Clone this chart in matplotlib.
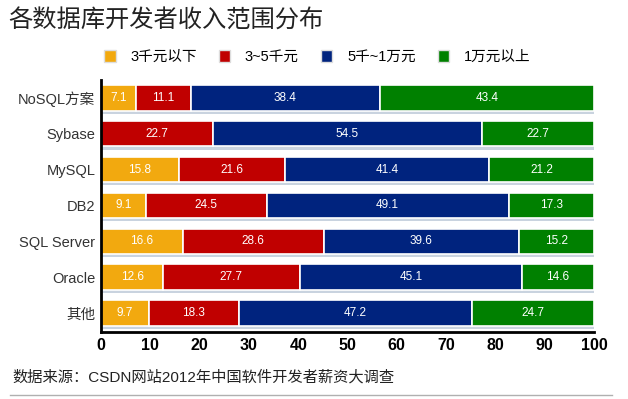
import matplotlib
matplotlib.use("Agg")
import matplotlib.pyplot as plt
import numpy as np
from matplotlib.patches import Patch
from matplotlib.lines import Line2D

# Latin text in an Arial-like face, CJK falls back to Noto
plt.rcParams["font.family"] = ["Liberation Sans", "Noto Sans CJK SC"]

databases = ["NoSQL方案", "Sybase", "MySQL", "DB2", "SQL Server", "Oracle", "其他"]
series_names = ["3千元以下", "3~5千元", "5千~1万元", "1万元以上"]
below_3k = [7.1, 0.0, 15.8, 9.1, 16.6, 12.6, 9.7]
from_3k_to_5k = [11.1, 22.7, 21.6, 24.5, 28.6, 27.7, 18.3]
from_5k_to_10k = [38.4, 54.5, 41.4, 49.1, 39.6, 45.1, 47.2]
above_10k = [43.4, 22.7, 21.2, 17.3, 15.2, 14.6, 24.7]
colors = ["#f2a90f", "#c00000", "#00237e", "#008000"]

values = [below_3k, from_3k_to_5k, from_5k_to_10k, above_10k]

fig = plt.figure(figsize=(6.28, 3.99), dpi=100)
ax = fig.add_axes([101 / 628, 1 - 332 / 399, 493 / 628, 252 / 399])

y = np.arange(len(databases))
totals = np.sum(values, axis=0)

# soft shadow under each stacked bar
ax.barh(y + 0.06, totals + 0.4, left=-0.1, height=0.76, color="#c9d3df",
        edgecolor="none", zorder=1)

left = np.zeros(len(databases))
for name, vals, col in zip(series_names, values, colors):
    vals = np.array(vals)
    ax.barh(y, vals, left=left, height=0.71, color=col, edgecolor="white",
            linewidth=1.2, zorder=2, label=name)
    for yi, (l, v) in enumerate(zip(left, vals)):
        if v > 0:
            ax.text(l + v / 2, yi, f"{v:.1f}", ha="center", va="center",
                    color="white", fontsize=8.5, zorder=3)
    left += vals

ax.set_xlim(0, 100)
ax.set_ylim(6.53, -0.5)
ax.set_yticks(y)
ax.set_yticklabels(databases, fontsize=10.5, color="#333333")
ax.set_xticks(np.arange(0, 101, 10))
ax.set_xticklabels([str(t) for t in range(0, 101, 10)], fontsize=11.5,
                   fontweight="bold")
ax.tick_params(axis="both", length=0, pad=4)
for side in ("top", "right"):
    ax.spines[side].set_visible(False)
for side in ("left", "bottom"):
    ax.spines[side].set_linewidth(2)
    ax.spines[side].set_color("black")

fig.text(8 / 628, 1 - 21 / 399, "各数据库开发者收入范围分布", fontsize=17.5,
         ha="left", va="center", color="#222222", family="Noto Sans CJK SC")

handles = [Patch(facecolor=c, edgecolor="#dddddd", label=n)
           for n, c in zip(series_names, colors)]
fig.legend(handles=handles, loc="center", bbox_to_anchor=(0.505, 1 - 57 / 399),
           ncol=4, frameon=False, fontsize=10.5, handlelength=0.8,
           handleheight=0.8, columnspacing=1.5, handletextpad=1.0)

fig.text(12 / 628, 1 - 377 / 399, "数据来源：CSDN网站2012年中国软件开发者薪资大调查",
         fontsize=11, ha="left", va="center", color="#222222")
fig.add_artist(Line2D([10 / 628, 612 / 628], [1 - 395 / 399] * 2,
                      color="#b0b0b0", linewidth=1))

fig.savefig("out.png", dpi=100)
